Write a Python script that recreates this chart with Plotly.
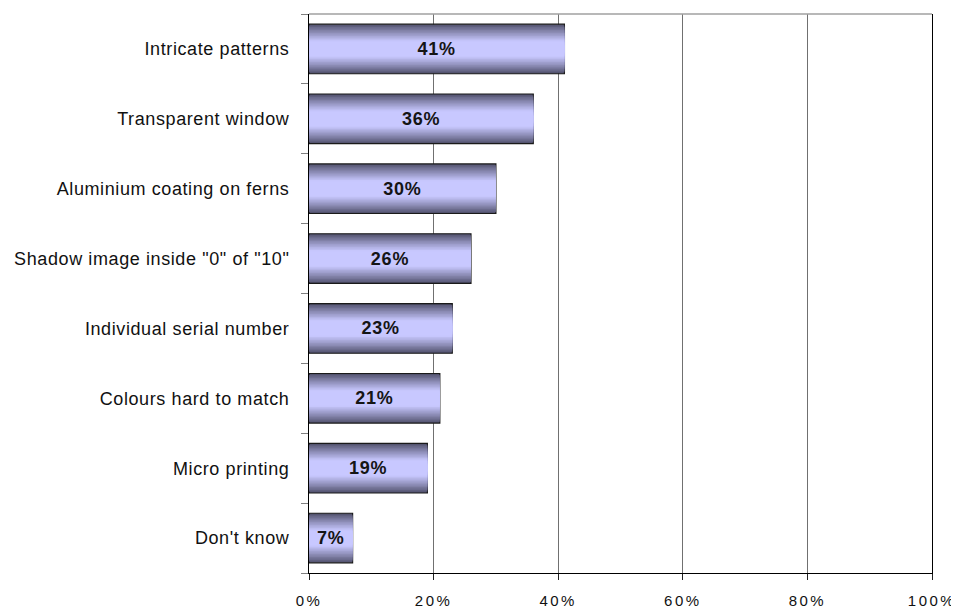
import plotly.graph_objects as go

categories = ["Intricate patterns", "Transparent window", "Aluminium coating on ferns",
              "Shadow image inside \"0\" of \"10\"", "Individual serial number",
              "Colours hard to match", "Micro printing", "Don't know"]
values = [41, 36, 30, 26, 23, 21, 19, 7]
x_ticks = [0, 20, 40, 60, 80, 100]
x_tick_labels = ["0%", "20%", "40%", "60%", "80%", "100%"]

def sp(t, ls):
    return '<span style="letter-spacing:%spx">%s</span>' % (ls, t)

dark = (82, 82, 110)
light = (200, 200, 255)
N = 16
full_w = 0.71

fig = go.Figure()
for i in range(N):
    f = i / (N - 1)
    t = min(1.0, f / 0.75) ** 0.9
    col = tuple(int(round(dark[k] + (light[k] - dark[k]) * t)) for k in range(3))
    w = full_w * (1 - i / N * 0.95)
    kw = {}
    if i == N - 1:
        kw = dict(text=[sp("%d%%" % v, 0.8) for v in values], textposition="inside",
                  insidetextanchor="middle", constraintext="none",
                  textfont=dict(family="Liberation Sans, Arial", size=18, color="#151515", weight="bold"))
    fig.add_trace(go.Bar(
        x=values, y=categories, orientation="h", width=w,
        marker=dict(color="rgb(%d,%d,%d)" % col,
                    line=dict(color="#1a1a1a" if i == 0 else "rgba(0,0,0,0)", width=1.2 if i == 0 else 0)),
        hoverinfo="skip", showlegend=False, **kw))

# page body adds an ~8px offset; figure size and margins compensate for it
fig.update_layout(
    template="none",
    width=951, height=602, barmode="overlay",
    margin=dict(l=301, r=27, t=6, b=37),
    paper_bgcolor="white", plot_bgcolor="white",
    font=dict(family="Liberation Sans, Arial", color="#111111"),
    xaxis=dict(range=[0, 100], tickvals=x_ticks, ticktext=[sp(t, 2.5) for t in x_tick_labels],
               showgrid=True, gridcolor="#707070", gridwidth=1, zeroline=False,
               showline=True, linecolor="black", linewidth=1,
               ticks="outside", ticklen=6, tickcolor="#202020",
               tickfont=dict(size=15, family="Liberation Sans, Arial"),
               ticklabelstandoff=8, automargin=False, fixedrange=True),
    yaxis=dict(type="category", autorange="reversed",
               tickvals=categories, ticktext=[sp(c, 0.6) for c in categories],
               tickson="boundaries", showgrid=False, zeroline=False,
               showline=True, linecolor="black", linewidth=1, mirror=True,
               ticks="outside", ticklen=7, tickcolor="#808080",
               tickfont=dict(size=18, family="Liberation Sans, Arial"),
               ticklabelstandoff=15, automargin=False, fixedrange=True),
    shapes=[dict(type="line", xref="paper", yref="paper", x0=0, x1=1, y0=1, y1=1,
                 line=dict(color="#a0a0a0", width=1.5))],
)

fig.write_html("out.html")
